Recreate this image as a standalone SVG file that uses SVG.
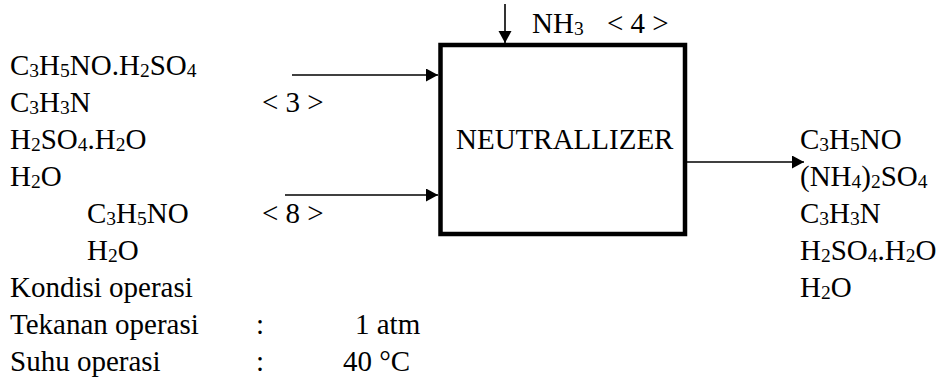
<svg xmlns="http://www.w3.org/2000/svg" width="938" height="381" viewBox="0 0 938 381">
<defs>
<marker id="ah" markerUnits="userSpaceOnUse" markerWidth="13" markerHeight="14" refX="12" refY="6.5" orient="auto">
<path d="M0,0 L12,6.5 L0,13 Z" fill="#000" stroke="none"/>
</marker>
</defs>
<g id="connectors" stroke="#000" stroke-width="1.6" fill="none">
<line x1="292" y1="75" x2="438" y2="75" marker-end="url(#ah)"/>
<line x1="285" y1="195" x2="438" y2="195" marker-end="url(#ah)"/>
<line x1="505" y1="4" x2="505" y2="43" marker-end="url(#ah)"/>
<line x1="687" y1="162" x2="804" y2="162" marker-end="url(#ah)"/>
</g>
<g id="neutralizer">
<rect x="440.5" y="45" width="244.5" height="189" fill="none" stroke="#000" stroke-width="4.5"/>
<text x="456" y="149" font-size="29" style="font-family: 'Liberation Serif'">NEUTRALLIZER</text>
</g>
<text x="10" y="75" font-size="29" style="font-family: 'Liberation Serif'">C<tspan font-size="19.5" dy="2">3</tspan><tspan dy="-2">H</tspan><tspan font-size="19.5" dy="2">5</tspan><tspan dy="-2">NO.H</tspan><tspan font-size="19.5" dy="2">2</tspan><tspan dy="-2">SO</tspan><tspan font-size="19.5" dy="2">4</tspan></text>
<text x="10" y="112" font-size="29" style="font-family: 'Liberation Serif'">C<tspan font-size="19.5" dy="2">3</tspan><tspan dy="-2">H</tspan><tspan font-size="19.5" dy="2">3</tspan><tspan dy="-2">N</tspan></text>
<text x="262" y="112" font-size="29" style="font-family: 'Liberation Serif'">&lt; 3 &gt;</text>
<text x="10" y="149" font-size="29" style="font-family: 'Liberation Serif'">H<tspan font-size="19.5" dy="2">2</tspan><tspan dy="-2">SO</tspan><tspan font-size="19.5" dy="2">4</tspan><tspan dy="-2">.H</tspan><tspan font-size="19.5" dy="2">2</tspan><tspan dy="-2">O</tspan></text>
<text x="10" y="186" font-size="29" style="font-family: 'Liberation Serif'">H<tspan font-size="19.5" dy="2">2</tspan><tspan dy="-2">O</tspan></text>
<text x="87" y="223" font-size="29" style="font-family: 'Liberation Serif'">C<tspan font-size="19.5" dy="2">3</tspan><tspan dy="-2">H</tspan><tspan font-size="19.5" dy="2">5</tspan><tspan dy="-2">NO</tspan></text>
<text x="262" y="223" font-size="29" style="font-family: 'Liberation Serif'">&lt; 8 &gt;</text>
<text x="87" y="260" font-size="29" style="font-family: 'Liberation Serif'">H<tspan font-size="19.5" dy="2">2</tspan><tspan dy="-2">O</tspan></text>
<text x="532" y="33" font-size="29" style="font-family: 'Liberation Serif'">NH<tspan font-size="19.5" dy="2">3</tspan></text>
<text x="607" y="33" font-size="29" style="font-family: 'Liberation Serif'">&lt; 4 &gt;</text>
<text x="800" y="149" font-size="29" style="font-family: 'Liberation Serif'">C<tspan font-size="19.5" dy="2">3</tspan><tspan dy="-2">H</tspan><tspan font-size="19.5" dy="2">5</tspan><tspan dy="-2">NO</tspan></text>
<text x="800" y="186" font-size="29" style="font-family: 'Liberation Serif'">(NH<tspan font-size="19.5" dy="2">4</tspan><tspan dy="-2">)</tspan><tspan font-size="19.5" dy="2">2</tspan><tspan dy="-2">SO</tspan><tspan font-size="19.5" dy="2">4</tspan></text>
<text x="800" y="223" font-size="29" style="font-family: 'Liberation Serif'">C<tspan font-size="19.5" dy="2">3</tspan><tspan dy="-2">H</tspan><tspan font-size="19.5" dy="2">3</tspan><tspan dy="-2">N</tspan></text>
<text x="800" y="260" font-size="29" style="font-family: 'Liberation Serif'">H<tspan font-size="19.5" dy="2">2</tspan><tspan dy="-2">SO</tspan><tspan font-size="19.5" dy="2">4</tspan><tspan dy="-2">.H</tspan><tspan font-size="19.5" dy="2">2</tspan><tspan dy="-2">O</tspan></text>
<text x="800" y="297" font-size="29" style="font-family: 'Liberation Serif'">H<tspan font-size="19.5" dy="2">2</tspan><tspan dy="-2">O</tspan></text>
<text x="10" y="297" font-size="29" style="font-family: 'Liberation Serif'">Kondisi operasi</text>
<text x="10" y="334" font-size="29" style="font-family: 'Liberation Serif'">Tekanan operasi</text>
<text x="256" y="334" font-size="29" style="font-family: 'Liberation Serif'">:</text>
<text x="355" y="334" font-size="29" style="font-family: 'Liberation Serif'">1 atm</text>
<text x="10" y="371" font-size="29" style="font-family: 'Liberation Serif'">Suhu operasi</text>
<text x="256" y="371" font-size="29" style="font-family: 'Liberation Serif'">:</text>
<text x="343" y="371" font-size="29" style="font-family: 'Liberation Serif'">40 °C</text>
</svg>
